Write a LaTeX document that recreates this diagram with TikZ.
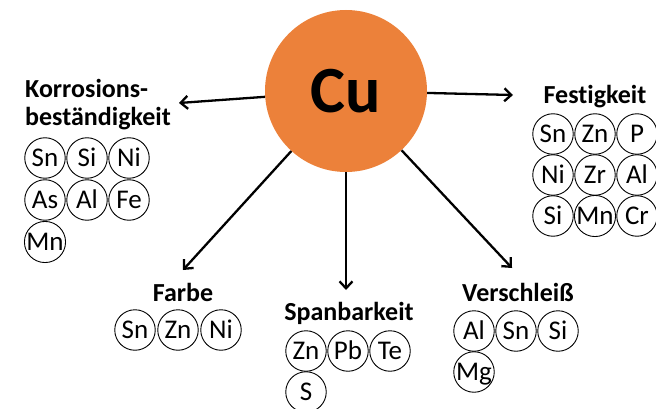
\documentclass[tikz,border=0pt]{standalone}
\usepackage{fontspec}
\setmainfont{Carlito}[Ligatures=NoCommon]
\usetikzlibrary{arrows.meta}
\definecolor{cuorange}{RGB}{236,129,58}
\begin{document}
\begin{tikzpicture}[x=1pt,y=-1pt,
  elem/.style={circle,draw,line width=0.9pt,minimum size=40.5pt,inner sep=0pt,
    font=\fontsize{27}{27}\selectfont,text height=17.4pt,text depth=0pt},
  head/.style={font=\bfseries\fontsize{26}{28.5}\selectfont,inner sep=0pt,anchor=base},
  arr/.style={line width=2.3pt,-{Straight Barb[length=7pt,width=13pt]}}]
\useasboundingbox (0,0) rectangle (656,409);

% central node
\node[circle,fill=cuorange,minimum size=162pt,inner sep=0pt,
  font=\bfseries\fontsize{66}{66}\selectfont] (cu) at (346,91) {Cu};

% arrow ends
\coordinate (eK) at (179,103);
\coordinate (eF) at (513,95);
\coordinate (eFa) at (183,270);
\coordinate (eS) at (346,290);
\coordinate (eV) at (512,268);
\draw[arr] (cu) -- (eK);
\draw[arr] (cu) -- (eF);
\draw[arr] (cu) -- (eFa);
\draw[arr] (cu) -- (eS);
\draw[arr] (cu) -- (eV);

% Korrosionsbestaendigkeit
\node[head,align=left,anchor=north west] (hK) at (25,79) {Korrosions-\\beständigkeit};
\node[elem] (k1) at (45,158) {Sn};
\node[elem] (k2) at (87,158) {Si};
\node[elem] (k3) at (129,158) {Ni};
\node[elem] (k4) at (45,200) {As};
\node[elem] (k5) at (87,200) {Al};
\node[elem] (k6) at (129,200) {Fe};
\node[elem] (k7) at (45,242) {Mn};

% Festigkeit
\node[head] (hF) at (595,104) {Festigkeit};
\node[elem] (f1) at (553,134) {Sn};
\node[elem] (f2) at (595,134) {Zn};
\node[elem] (f3) at (637,134) {P};
\node[elem] (f4) at (553,175) {Ni};
\node[elem] (f5) at (595,175) {Zr};
\node[elem] (f6) at (637,175) {Al};
\node[elem] (f7) at (553,216) {Si};
\node[elem] (f8) at (595,216) {Mn};
\node[elem] (f9) at (637,216) {Cr};

% Farbe
\node[head] (hFa) at (183,301) {Farbe};
\node[elem] (a1) at (135,330) {Sn};
\node[elem] (a2) at (178,330) {Zn};
\node[elem] (a3) at (221,330) {Ni};

% Spanbarkeit
\node[head] (hS) at (349,320) {Spanbarkeit};
\node[elem] (s1) at (306,351) {Zn};
\node[elem] (s2) at (348,351) {Pb};
\node[elem] (s3) at (390,351) {Te};
\node[elem] (s4) at (306,392) {S};

% Verschleiss
\node[head] (hV) at (518,301) {Verschleiß};
\node[elem] (v1) at (474,331) {Al};
\node[elem] (v2) at (516,331) {Sn};
\node[elem] (v3) at (558,331) {Si};
\node[elem] (v4) at (474,372) {Mg};
\end{tikzpicture}
\end{document}
